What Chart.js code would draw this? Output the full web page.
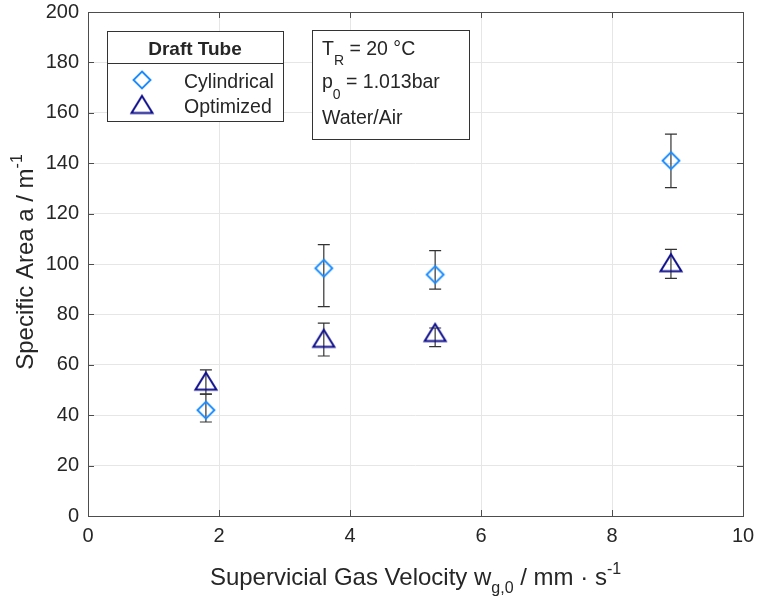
<!DOCTYPE html>
<html><head><meta charset="utf-8">
<script src="https://cdn.jsdelivr.net/npm/chart.js@4/dist/chart.umd.min.js"></script>
<style>html,body{margin:0;padding:0;background:#fff}#wrap{width:760px;height:601px}</style>
</head><body><div id="wrap"><canvas id="c" width="760" height="601"></canvas></div>
<script>
// ---- data ----
const velocity = [1.8, 3.6, 5.3, 8.9];
const cylindrical = [42, 98.3, 95.8, 141];
const cylindricalLow = [37.3, 83.1, 90, 130.3];
const cylindricalHigh = [48.4, 107.7, 105.3, 151.5];
const optimized = [53.5, 70.5, 72.8, 100.5];
const optimizedLow = [48.4, 63.5, 67.2, 94.3];
const optimizedHigh = [58, 76.5, 74.6, 105.8];
const xTicks = [0, 2, 4, 6, 8, 10];
const yTicks = [0, 20, 40, 60, 80, 100, 120, 140, 160, 180, 200];
const seriesNames = ['Cylindrical', 'Optimized'];
const legendTitle = 'Draft Tube';

const FONT = '"Liberation Sans", Arial, Helvetica, sans-serif';
const TXT = '#262626';
const CYL_COLOR = '#1a8cff';
const OPT_COLOR = '#0f0f8c';

function makeDiamond(color) {
  const c = document.createElement('canvas'); c.width = 22; c.height = 22;
  const g = c.getContext('2d'); g.strokeStyle = color; g.lineWidth = 1.9;
  g.beginPath(); g.moveTo(11, 2.5); g.lineTo(19.5, 11); g.lineTo(11, 19.5); g.lineTo(2.5, 11); g.closePath(); g.stroke();
  return c;
}
function makeTriangle(color) {
  const c = document.createElement('canvas'); c.width = 26; c.height = 22;
  const g = c.getContext('2d'); g.strokeStyle = color; g.lineWidth = 2; g.lineJoin = 'miter';
  g.beginPath(); g.moveTo(13, 2.5); g.lineTo(23.5, 19.5); g.lineTo(2.5, 19.5); g.closePath(); g.stroke();
  return c;
}
const diamondImg = makeDiamond(CYL_COLOR);
const triangleImg = makeTriangle(OPT_COLOR);

const errors = [
  {low: cylindricalLow, high: cylindricalHigh},
  {low: optimizedLow, high: optimizedHigh}
];

function drawRich(ctx, parts, x, y, align) {
  let total = 0;
  parts.forEach(p => { ctx.font = p.font; p.w = ctx.measureText(p.t).width; total += p.w; });
  let cx = align === 'center' ? x - total / 2 : x;
  ctx.textAlign = 'left'; ctx.textBaseline = 'alphabetic';
  parts.forEach(p => { ctx.font = p.font; ctx.fillText(p.t, cx, y + (p.dy || 0)); cx += p.w; });
}

const errorBarPlugin = {
  id: 'errbars',
  beforeDatasetsDraw(chart) {
    const ctx = chart.ctx, xs = chart.scales.x, ys = chart.scales.y;
    ctx.save(); ctx.strokeStyle = '#333'; ctx.lineWidth = 1.2;
    errors.forEach(e => {
      velocity.forEach((v, i) => {
        const px = xs.getPixelForValue(v), y1 = ys.getPixelForValue(e.low[i]), y2 = ys.getPixelForValue(e.high[i]);
        ctx.beginPath();
        ctx.moveTo(px, y1); ctx.lineTo(px, y2);
        ctx.moveTo(px - 6, y1); ctx.lineTo(px + 6, y1);
        ctx.moveTo(px - 6, y2); ctx.lineTo(px + 6, y2);
        ctx.stroke();
      });
    });
    ctx.restore();
  }
};

const decorPlugin = {
  id: 'decor',
  afterDraw(chart) {
    const ctx = chart.ctx, a = chart.chartArea, xs = chart.scales.x, ys = chart.scales.y;
    ctx.save();
    // box + inward ticks
    ctx.strokeStyle = '#4d4d4d'; ctx.lineWidth = 1;
    ctx.strokeRect(Math.round(a.left) + 0.5, Math.round(a.top) + 0.5, Math.round(a.right - a.left), Math.round(a.bottom - a.top));
    ctx.beginPath();
    xTicks.forEach(t => { const p = Math.round(xs.getPixelForValue(t)) + 0.5;
      ctx.moveTo(p, a.bottom); ctx.lineTo(p, a.bottom - 6); ctx.moveTo(p, a.top); ctx.lineTo(p, a.top + 6); });
    yTicks.forEach(t => { const p = Math.round(ys.getPixelForValue(t)) + 0.5;
      ctx.moveTo(a.left, p); ctx.lineTo(a.left + 6, p); ctx.moveTo(a.right, p); ctx.lineTo(a.right - 6, p); });
    ctx.stroke();

    // axis titles
    ctx.fillStyle = TXT;
    const big = '24px ' + FONT, small = '16px ' + FONT;
    drawRich(ctx, [
      {t: 'Supervicial Gas Velocity w', font: big},
      {t: 'g,0', font: small, dy: 8},
      {t: ' / mm \u00B7 s', font: big},
      {t: '-1', font: small, dy: -11}
    ], (a.left + a.right) / 2, 585, 'center');
    ctx.save();
    ctx.translate(33, (a.top + a.bottom) / 2 - 2);
    ctx.rotate(-Math.PI / 2);
    drawRich(ctx, [
      {t: 'Specific Area a / m', font: big},
      {t: '-1', font: small, dy: -11}
    ], 0, 0, 'center');
    ctx.restore();

    // legend box
    ctx.fillStyle = '#fff'; ctx.strokeStyle = '#333'; ctx.lineWidth = 1;
    ctx.fillRect(107, 31, 176, 90); ctx.strokeRect(107.5, 31.5, 176, 90);
    ctx.beginPath(); ctx.moveTo(107, 63.5); ctx.lineTo(283, 63.5); ctx.stroke();
    ctx.fillStyle = TXT;
    ctx.font = 'bold 19px ' + FONT; ctx.textAlign = 'center'; ctx.textBaseline = 'alphabetic';
    ctx.fillText(legendTitle, 195, 55);
    ctx.drawImage(diamondImg, 142 - 11, 80 - 11);
    ctx.drawImage(triangleImg, 142 - 13, 104.5 - 11);
    ctx.font = '19.5px ' + FONT; ctx.textAlign = 'left';
    ctx.fillText(seriesNames[0], 184, 88);
    ctx.fillText(seriesNames[1], 184, 113);

    // text box
    ctx.fillStyle = '#fff'; ctx.strokeStyle = '#333';
    ctx.fillRect(312, 30, 157, 109); ctx.strokeRect(312.5, 30.5, 157, 109);
    ctx.fillStyle = TXT;
    const tb = '19.5px ' + FONT, ts = '14px ' + FONT;
    drawRich(ctx, [{t: 'T', font: tb}, {t: 'R', font: ts, dy: 10}, {t: ' = 20 \u00B0C', font: tb}], 322, 55, 'left');
    drawRich(ctx, [{t: 'p', font: tb}, {t: '0', font: ts, dy: 11}, {t: ' = 1.013bar', font: tb}], 322, 88, 'left');
    drawRich(ctx, [{t: 'Water/Air', font: tb}], 322, 124, 'left');
    ctx.restore();
  }
};

new Chart(document.getElementById('c'), {
  type: 'scatter',
  data: {
    datasets: [
      {label: seriesNames[0], data: velocity.map((v, i) => ({x: v, y: cylindrical[i]})),
       pointStyle: diamondImg, pointRadius: 9, showLine: false},
      {label: seriesNames[1], data: velocity.map((v, i) => ({x: v, y: optimized[i]})),
       pointStyle: triangleImg, pointRadius: 10, showLine: false}
    ]
  },
  options: {
    responsive: false, animation: false, devicePixelRatio: 1,
    layout: {padding: {top: 12, right: 17, left: 0, bottom: 0}},
    plugins: {legend: {display: false}, tooltip: {enabled: false}},
    scales: {
      x: {type: 'linear', min: 0, max: 10,
          afterBuildTicks: s => { s.ticks = xTicks.map(v => ({value: v})); },
          afterFit: s => { s.height = 85; s.paddingLeft = 0; s.paddingRight = 0; s.paddingTop = 0; s.paddingBottom = 0; },
          ticks: {font: {family: FONT, size: 20}, color: TXT, padding: 8, maxRotation: 0},
          grid: {color: '#e6e6e6', drawTicks: false}, border: {display: false}},
      y: {type: 'linear', min: 0, max: 200,
          afterBuildTicks: s => { s.ticks = yTicks.map(v => ({value: v})); },
          afterFit: s => { s.width = 88; s.paddingLeft = 0; s.paddingRight = 0; s.paddingTop = 0; s.paddingBottom = 0; },
          ticks: {font: {family: FONT, size: 20}, color: TXT, padding: 9},
          grid: {color: '#e6e6e6', drawTicks: false}, border: {display: false}}
    }
  },
  plugins: [errorBarPlugin, decorPlugin]
});
</script></body></html>
